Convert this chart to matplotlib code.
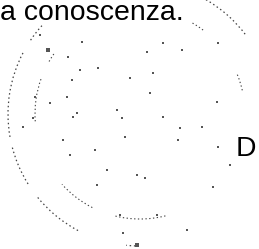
import matplotlib
matplotlib.use("Agg")
import matplotlib.pyplot as plt
from matplotlib.patches import Arc

# Text on the scanned page
line_text = "a conoscenza."
side_text = "D"

# Stamp rings: (radius, [(start_deg, end_deg), ...]) around one centre
stamp_center = (140, 114)
outer_radius = 132
outer_segments = [(92, 96), (118, 141), (148, 166), (170, 208), (214, 222), (300, 323)]
inner_radius = 105
inner_segments = [(76, 104), (117, 138), (176, 200), (210, 216), (300, 307), (338, 348)]

# Loose specks inside the stamp (x, y in page pixels)
speck_x = [80, 130, 150, 35, 33, 23, 72, 73, 125, 70, 63, 95, 97, 137, 145, 178, 230,
           218, 217, 202, 122, 163, 180, 50, 67, 77, 117, 107, 213, 98, 153, 137, 187,
           157, 120, 123, 40, 48, 82, 163, 218, 182, 147, 68]
speck_y = [70, 78, 93, 97, 118, 127, 80, 117, 137, 155, 140, 150, 185, 175, 178, 140, 165,
           147, 102, 127, 118, 117, 128, 103, 97, 113, 110, 170, 187, 68, 73, 245, 230,
           215, 215, 233, 35, 50, 42, 43, 43, 50, 52, 57]
speck_size = [2, 4, 3, 2, 3, 2, 2, 2, 3, 3, 2, 2, 2, 2, 2, 1, 1,
              1, 1, 1, 1, 1, 1, 1, 1, 2, 1, 1, 1, 1, 1, 5, 2,
              2, 2, 2, 2, 6, 1, 1, 1, 1, 1, 1]

fig = plt.figure(figsize=(2.59, 2.49), dpi=100)
ax = fig.add_axes([0, 0, 1, 1])
ax.set_xlim(0, 259)
ax.set_ylim(249, 0)
ax.axis("off")

for radius, segs, lw in [(outer_radius, outer_segments, 0.9), (inner_radius, inner_segments, 0.8)]:
    for t1, t2 in segs:
        ax.add_patch(Arc(stamp_center, 2 * radius, 2 * radius, theta1=t1, theta2=t2,
                         color="#444444", lw=lw, linestyle=(0, (1.2, 2.2))))

ax.scatter(speck_x, speck_y, s=speck_size, color="#555555", marker="s", linewidths=0)

ax.text(0, 20, line_text, fontsize=20.4, family="Liberation Sans", color="black",
        ha="left", va="baseline")
ax.text(236, 156, side_text, fontsize=20.4, family="Liberation Sans", color="black",
        ha="left", va="baseline")

fig.savefig("out.png", dpi=100)
